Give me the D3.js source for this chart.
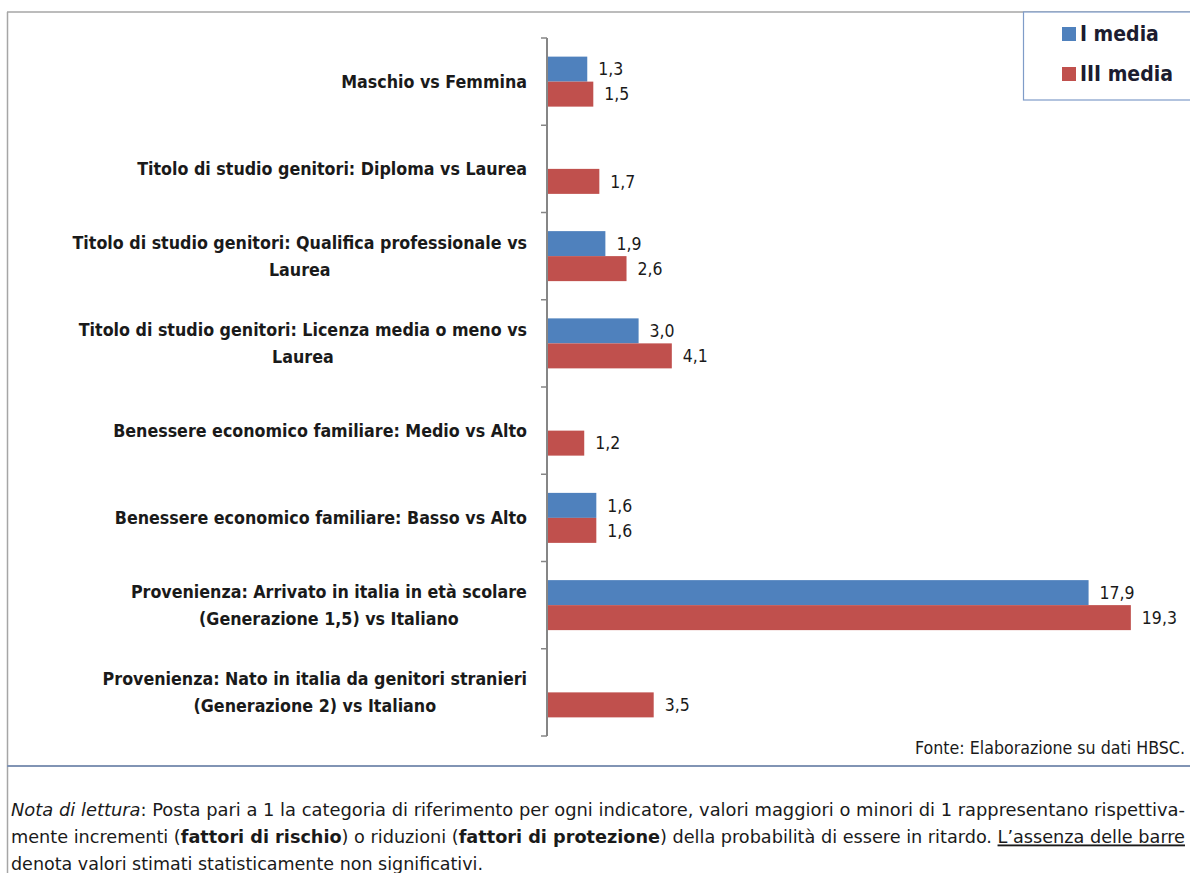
<!DOCTYPE html>
<html>
<head>
<meta charset="utf-8">
<script src="https://cdn.jsdelivr.net/npm/d3@7"></script>
<style>
  html, body { margin: 0; padding: 0; background: #fff; }
  svg { display: block; }
  text { font-family: "Liberation Sans Narrow", "DejaVu Sans Condensed", "Arial Narrow", sans-serif; fill: #1a1a1a; }
</style>
</head>
<body>
<svg id="chart" width="1190" height="873"></svg>
<script>
// Category labels (each entry is the list of lines drawn for that row)
const categories = [
  ["Maschio vs Femmina"],
  ["Titolo di studio genitori: Diploma vs Laurea"],
  ["Titolo di studio genitori: Qualifica professionale vs", "Laurea"],
  ["Titolo di studio genitori: Licenza media o meno vs", "Laurea"],
  ["Benessere economico familiare: Medio vs Alto"],
  ["Benessere economico familiare: Basso vs Alto"],
  ["Provenienza: Arrivato in italia in età scolare", "(Generazione 1,5) vs Italiano"],
  ["Provenienza: Nato in italia da genitori stranieri", "(Generazione 2) vs Italiano"]
];
// Odds ratios; null = not statistically significant (no bar)
const primaMedia = [1.3, null, 1.9, 3.0, null, 1.6, 17.9, null];
const terzaMedia = [1.5, 1.7, 2.6, 4.1, 1.2, 1.6, 19.3, 3.5];
const seriesNames = ["I media", "III media"];
const seriesColors = ["#4F81BD", "#C0504D"];

const svg = d3.select("#chart");
const W = 1190, H = 873;

// Frame around the figure
svg.append("line").attr("x1", 7).attr("x2", W).attr("y1", 12).attr("y2", 12)
  .attr("stroke", "#a6a6a6").attr("stroke-width", 1.5);
svg.append("line").attr("x1", 7.5).attr("x2", 7.5).attr("y1", 12).attr("y2", H)
  .attr("stroke", "#a6a6a6").attr("stroke-width", 1.5);
svg.append("line").attr("x1", 7).attr("x2", W).attr("y1", 766).attr("y2", 766)
  .attr("stroke", "#8194b4").attr("stroke-width", 2);

const idx = d3.range(categories.length);
const y = d3.scaleBand().domain(idx).range([38, 736]).paddingInner(0).paddingOuter(0);
const x = d3.scaleLinear().domain([0, 20]).range([548, 548 + 20 * 30.2]);
const barH = 25;

const series = [primaMedia, terzaMedia];

// Bars and value labels
series.forEach((vals, s) => {
  const rows = idx.filter(i => vals[i] != null).map(i => ({ i, v: vals[i] }));
  const g = svg.append("g");
  g.selectAll("rect").data(rows).join("rect")
    .attr("x", x(0))
    .attr("y", d => y(d.i) + y.bandwidth() / 2 - barH + s * barH)
    .attr("width", d => x(d.v) - x(0))
    .attr("height", barH)
    .attr("fill", seriesColors[s]);
  g.selectAll("text").data(rows).join("text")
    .attr("x", d => x(d.v) + 11)
    .attr("y", d => y(d.i) + y.bandwidth() / 2 - barH + s * barH + barH / 2)
    .attr("dy", "0.35em")
    .attr("font-size", 17.5)
    .text(d => d3.format(".1f")(d.v).replace(".", ","));
});

// Vertical category axis with ticks between categories
const axisG = svg.append("g").attr("transform", "translate(547,0)");
const tickPos = idx.map(i => y(i)).concat([y.range()[1]]);
axisG.append("line").attr("x1", 0).attr("x2", 0).attr("y1", 38).attr("y2", 736)
  .attr("stroke", "#868686").attr("stroke-width", 2);
axisG.selectAll("line.tick").data(tickPos).join("line").attr("class", "tick")
  .attr("x1", -6).attr("x2", 0).attr("y1", d => d).attr("y2", d => d)
  .attr("stroke", "#868686").attr("stroke-width", 1.5);

// Category labels: block right-aligned, lines centred within block
const labG = svg.append("g");
categories.forEach((lines, i) => {
  const cy = y(i) + y.bandwidth() / 2;
  const lh = 27;
  const t = labG.append("text").attr("font-size", 17.7).attr("font-weight", "bold")
    .attr("text-anchor", "middle");
  lines.forEach((ln, k) => {
    t.append("tspan").attr("x", 0).attr("y", cy + (k - (lines.length - 1) / 2) * lh)
      .attr("dy", "0.35em").text(ln);
  });
  const w = t.node().getBBox().width;
  t.attr("transform", `translate(${527 - w / 2},0)`);
});

// Legend
const leg = svg.append("g");
leg.append("rect").attr("x", 1023.5).attr("y", 12).attr("width", 180).attr("height", 88)
  .attr("fill", "#fff").attr("stroke", "#7f9cc8").attr("stroke-width", 1.2);
seriesNames.forEach((name, s) => {
  const cy = 34 + s * 40;
  leg.append("rect").attr("x", 1062).attr("y", cy - 7).attr("width", 14).attr("height", 14)
    .attr("fill", seriesColors[s]);
  leg.append("text").attr("x", 1080).attr("y", cy).attr("dy", "0.35em")
    .attr("font-size", 21).attr("font-weight", "bold").style("fill", "#1c1c30").text(name);
});

// Source
svg.append("text").attr("x", 1185).attr("y", 748).attr("dy", "0.35em")
  .attr("text-anchor", "end").attr("font-size", 17).attr("textLength", 270)
  .attr("lengthAdjust", "spacingAndGlyphs").text("Fonte: Elaborazione su dati HBSC.");

// Reading note (justified lines)
const note = svg.append("g").attr("font-size", 18.5);
const l1 = note.append("text").attr("x", 11).attr("y", 810).attr("dy", "0.35em")
  .attr("textLength", 1174).attr("lengthAdjust", "spacingAndGlyphs");
l1.append("tspan").attr("font-style", "italic").text("Nota di lettura");
l1.append("tspan").text(": Posta pari a 1 la categoria di riferimento per ogni indicatore, valori maggiori o minori di 1 rappresentano rispettiva-");
const l2 = note.append("text").attr("x", 11).attr("y", 837).attr("dy", "0.35em")
  .attr("textLength", 1174).attr("lengthAdjust", "spacingAndGlyphs");
l2.append("tspan").text("mente incrementi (");
l2.append("tspan").attr("font-weight", "bold").text("fattori di rischio");
l2.append("tspan").text(") o riduzioni (");
l2.append("tspan").attr("font-weight", "bold").text("fattori di protezione");
l2.append("tspan").text(") della probabilità di essere in ritardo. ");
l2.append("tspan").attr("text-decoration", "underline").text("L’assenza delle barre");
note.append("text").attr("x", 11).attr("y", 864).attr("dy", "0.35em")
  .attr("textLength", 472).attr("lengthAdjust", "spacingAndGlyphs")
  .text("denota valori stimati statisticamente non significativi.");
</script>
</body>
</html>
